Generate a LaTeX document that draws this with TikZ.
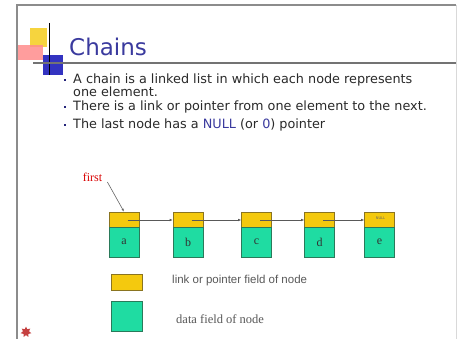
\documentclass[tikz,border=0pt]{standalone}
\usepackage{fontspec}
\setmainfont{DejaVu Sans}
\newfontfamily\serifA{Liberation Serif}
\newfontfamily\sansA{Liberation Sans}
\usetikzlibrary{arrows.meta,shapes.geometric,calc}
\definecolor{ptrc}{HTML}{F4C90E}
\definecolor{datc}{HTML}{1FDCA2}
\definecolor{ptrb}{HTML}{8A7420}
\definecolor{datb}{HTML}{2A7A5A}
\definecolor{titleblue}{HTML}{3A3A9E}
\definecolor{bodytxt}{HTML}{2A2A2A}
\definecolor{bulletc}{HTML}{24247A}
\tikzset{
  ptrfield/.style={draw=ptrb, fill=ptrc, line width=0.6pt, minimum width=30pt, minimum height=15pt, inner sep=0pt},
  datfield/.style={draw=datb, fill=datc, line width=0.6pt, minimum width=30pt, minimum height=30pt, inner sep=0pt, font=\serifA\fontsize{12}{12}\selectfont, text=black!80},
  bodyline/.style={anchor=base west, inner sep=0pt, text=bodytxt, font=\fontsize{12.8}{14}\selectfont},
  bulletmark/.style={fill=bulletc, minimum size=2.6pt, inner sep=0pt},
  linkline/.style={draw=black!65, line width=0.6pt, -{Latex[length=3pt,width=2.6pt]}},
  legendtxt/.style={anchor=west, inner sep=0pt, text=black!65}
}
\begin{document}
\begin{tikzpicture}[x=1pt,y=-1pt]
\useasboundingbox (0,0) rectangle (458,339);
\fill[white] (0,0) rectangle (458,339);
% slide frame
\draw[black!45, line width=1.2pt] (17,339) -- (17,5) -- (456,5);
\draw[black!15, line width=0.8pt] (456,5) -- (456,339);
% title decoration
\fill[ptrc!80!white] (30,28) rectangle (47,47);
\fill[red!45!white, opacity=0.85] (18,45) rectangle (43,60);
\fill[blue!70!black, opacity=0.8] (43,55) rectangle (63,75);
\draw[black, line width=0.9pt] (49,23) -- (49,75);
\draw[black!55, line width=1.4pt] (33,63) -- (456,63);
% title
\node[anchor=base west, inner sep=0pt, text=titleblue, font=\fontsize{23}{24}\selectfont] (title) at (69,56) {Chains};
% bullets
\node[bulletmark] (b1) at (65,80) {};
\node[bodyline] (l1) at (73,84) {A chain is a linked list in which each node represents};
\node[bodyline] (l1b) at (73,97) {one element.};
\node[bulletmark] (b2) at (65,107) {};
\node[bodyline] (l2) at (73,111) {There is a link or pointer from one element to the next.};
\node[bulletmark] (b3) at (65,125) {};
\node[bodyline] (l3) at (73,129) {The last node has a \textcolor{titleblue}{NULL} (or \textcolor{titleblue}{0}) pointer};
% chain
\node[anchor=center, inner sep=0pt, text=red!85!black, font=\serifA\fontsize{12}{12}\selectfont] (first) at (92.5,177) {first};
\foreach \i/\cx/\lab in {1/124/a,2/188/b,3/256.5/c,4/319.5/d,5/379.5/e}{
  \node[ptrfield] (p\i) at (\cx,219.5) {};
  \node[datfield] (d\i) at (\cx,242) {\lab};
  \coordinate (s\i) at ($(p\i.center)+(3.5,0.5)$);
}
\node[font=\fontsize{3.6}{4}\selectfont, text=black!60, inner sep=0pt] (null) at ($(p5.center)+(1,-1)$) {NULL};
\foreach \i/\j in {1/2,2/3,3/4,4/5}{
  \draw[linkline] (s\i) -- (p\j.west |- s\i);
}
\draw[black!60, line width=0.6pt, -{Latex[length=3pt,width=2.4pt]}] ($(first.east)+(5,5)$) -- (p1.north);
% legend
\node[ptrfield, minimum width=31pt, minimum height=16pt] (lp) at (126.5,282) {};
\node[legendtxt, font=\sansA\fontsize{11.5}{12}\selectfont] (lpt) at (172,281) {link or pointer field of node};
\node[datfield, minimum width=31pt, minimum height=30pt] (ld) at (126.5,316) {};
\node[legendtxt, font=\serifA\fontsize{12.5}{13}\selectfont] (ldt) at (176,319) {data field of node};
% logo
\node[star, star points=7, star point ratio=1.8, fill=red!70!black, opacity=0.75, minimum size=11pt, inner sep=0pt] (logo) at (26,332) {};
\end{tikzpicture}
\end{document}
